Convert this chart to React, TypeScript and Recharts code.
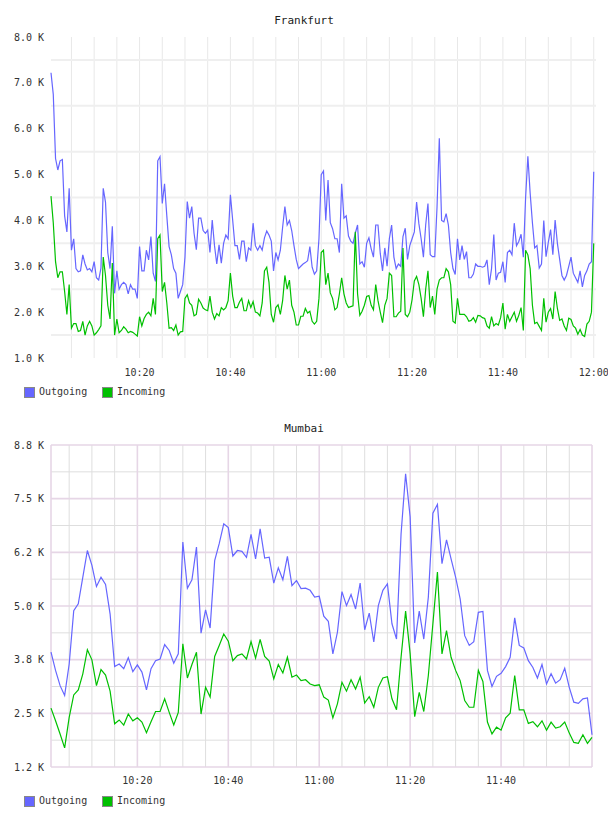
import { LineChart, Line, XAxis, YAxis, CartesianGrid } from 'recharts'

// Frankfurt: one sample every 30 s from 10:00:30 to 12:00 (values in K)
const frankfurtOutgoing = [
  7.22, 6.75, 5.35, 5.1, 5.3, 5.33, 4.1, 3.75, 4.7, 3.35,
  3.6, 2.95, 2.88, 2.9, 3.25, 3.05, 2.92, 2.95, 2.88, 3.1,
  2.75, 2.7, 2.96, 4.7, 4.4, 3.3, 2.95, 3.87, 2.41, 2.9,
  2.5, 2.6, 2.65, 2.6, 2.4, 2.6, 2.5, 2.5, 2.3, 3.43,
  2.9, 2.9, 3.35, 3.14, 3.65, 2.85, 2.67, 5.3, 5.39, 4.37,
  4.8, 4.1, 3.43, 3.25, 2.95, 2.85, 2.3, 2.45, 2.6, 3.2,
  4.41, 4.05, 4.3, 3.72, 3.36, 4.05, 4.05, 3.78, 3.72, 3.79,
  3.3, 4.01, 3.45, 3.05, 3.47, 3.07, 3.5, 3.68, 3.6, 4.56,
  4.01, 3.45, 3.45, 3.15, 3.55, 3.55, 3.1, 3.4, 3.35, 3.94,
  3.45, 3.35, 3.45, 3.35, 3.62, 3.77, 3.68, 3.55, 2.9, 3.3,
  3.14, 3.35, 3.85, 4.3, 3.9, 4.0, 3.78, 3.45, 3.15, 2.95,
  3.0, 3.05, 3.08, 3.12, 3.43, 2.98, 2.83, 2.9, 3.6, 5.0,
  5.08, 4.0, 4.88, 3.95, 3.82, 3.6, 3.6, 3.3, 4.8, 4.05,
  4.1, 3.66, 3.55, 3.5, 3.72, 3.9, 3.05, 3.1, 2.98, 3.5,
  3.62, 3.38, 3.2, 3.9, 3.9, 3.28, 2.9, 3.4, 3.0, 3.6,
  3.9, 3.2, 2.95, 3.05, 3.0, 3.65, 3.83, 3.15, 3.45, 3.6,
  3.75, 4.4, 3.93, 3.6, 3.2, 3.9, 4.37, 3.25, 3.21, 3.21,
  4.3, 5.79, 4.0, 3.97, 4.15, 3.9, 3.3, 2.95, 2.82, 3.6,
  3.14, 3.45, 3.15, 3.32, 2.75, 2.75, 2.83, 3.05, 3.0, 3.0,
  2.98, 3.0, 3.14, 2.6, 2.95, 3.69, 2.7, 2.85, 2.87, 3.1,
  2.65, 3.3, 3.35, 3.25, 3.94, 3.45, 3.54, 3.7, 3.2, 4.5,
  5.4, 4.6, 3.95, 3.4, 3.45, 2.96, 3.05, 4.0, 3.21, 3.52,
  3.8, 3.25, 4.01, 3.5, 3.15, 2.8, 2.7, 2.8, 3.0, 3.2,
  2.85, 2.75, 2.65, 2.9, 2.55, 2.8, 2.9, 3.05, 3.1, 5.06
]

const frankfurtIncoming = [
  4.53, 3.95, 3.1, 2.75, 2.88, 2.88, 2.45, 1.95, 2.6, 1.65,
  1.75, 1.75, 1.58, 1.6, 1.8, 1.5, 1.7, 1.8, 1.7, 1.5,
  1.55, 1.62, 1.7, 3.2, 2.8, 2.15, 1.85, 3.07, 1.5, 1.85,
  1.55, 1.6, 1.68, 1.63, 1.55, 1.58, 1.56, 1.52, 1.48, 1.9,
  1.7, 1.86, 1.95, 2.0, 1.92, 2.3, 1.95, 3.6, 3.68, 2.45,
  2.65, 2.2, 1.65, 1.66, 1.6, 1.72, 1.5, 1.57, 1.58, 2.3,
  2.38, 2.2, 2.15, 1.92, 1.95, 2.28, 2.2, 2.09, 2.05, 2.03,
  2.35, 2.0, 1.85, 1.97, 1.92, 2.1, 2.05, 2.1, 2.25, 2.85,
  2.35, 2.1, 2.1, 2.22, 2.3, 2.03, 2.03, 2.25, 2.1, 2.23,
  2.0, 1.98, 1.92, 2.2, 2.9, 2.98, 2.65, 1.95, 1.78, 2.1,
  2.16, 1.95, 2.25, 2.8, 2.5, 2.7, 2.15, 2.0, 1.72, 1.72,
  1.91, 1.91, 2.08, 1.98, 2.02, 1.8, 1.74, 1.8, 2.3, 3.3,
  3.35, 2.6, 2.85, 2.42, 2.3, 2.05, 2.1, 2.4, 2.75, 2.4,
  2.2, 2.1, 2.12, 2.14, 3.75, 2.4, 1.93, 2.02, 2.15, 2.34,
  2.36, 2.15, 2.05, 2.6, 2.25, 2.0, 1.77, 2.15, 2.3, 2.85,
  2.8, 1.9, 1.9, 1.98, 2.02, 3.4, 1.95, 1.9, 2.0, 2.27,
  2.68, 2.78, 2.6, 2.3, 1.9, 2.5, 2.9, 2.1, 2.35, 1.95,
  2.5, 2.7, 2.75, 2.75, 2.95, 2.88, 2.6, 1.8, 1.76, 2.3,
  1.95, 1.95, 1.95, 1.9, 1.8, 1.82, 1.88, 1.78, 1.93, 1.92,
  1.88, 1.86, 1.7, 1.65, 1.9, 1.7, 1.75, 1.72, 1.88, 2.2,
  1.63, 1.95, 1.8, 1.9, 2.0, 1.8, 1.93, 2.1, 1.6, 3.35,
  3.25, 2.95, 2.15, 1.75, 1.78, 1.69, 1.6, 2.3, 1.78, 2.0,
  2.08, 1.85, 2.45, 2.08, 1.82, 1.85, 1.7, 1.6, 1.87, 1.84,
  1.7, 1.65, 1.52, 1.62, 1.5, 1.47, 1.74, 1.8, 2.0, 3.5
]

// Mumbai: one sample a minute from 10:01 to 12:00 (values in K)
const mumbaiOutgoing = [
  3.91, 3.48, 3.12, 2.89, 3.63, 4.89, 5.05, 5.68, 6.31, 5.96,
  5.46, 5.68, 5.51, 4.81, 3.57, 3.63, 3.52, 3.78, 3.45, 3.61,
  3.44, 3.02, 3.52, 3.71, 3.75, 4.09, 3.95, 3.65, 3.87, 6.51,
  5.42, 5.62, 6.39, 4.36, 4.91, 4.48, 6.07, 6.47, 6.94, 6.85,
  6.18, 6.31, 6.29, 6.15, 6.69, 6.11, 6.82, 6.13, 6.15, 5.54,
  5.9, 5.62, 6.17, 5.48, 5.6, 5.41, 5.42, 5.37, 5.21, 5.23,
  4.76, 4.64, 3.87, 4.38, 5.34, 5.01, 5.27, 4.93, 5.54, 4.44,
  4.83, 4.15, 5.01, 5.37, 5.52, 4.58, 4.22, 6.7, 8.12, 7.1,
  4.13, 4.88, 4.22, 5.21, 7.19, 7.4, 6.0, 6.56, 6.11, 5.68,
  5.17, 4.3, 4.07, 4.16, 4.85, 4.87, 3.48, 3.1, 3.34, 3.41,
  3.57, 3.79, 4.72, 4.07, 4.01, 3.71, 3.55, 3.3, 3.62, 3.16,
  3.4, 3.18, 3.26, 3.53, 3.08, 2.73, 2.7, 2.81, 2.83, 1.96
]

const mumbaiIncoming = [
  2.59, 2.29, 1.98, 1.65, 2.37, 2.9, 3.02, 3.4, 3.97, 3.73,
  3.12, 3.5, 3.37, 2.99, 2.22, 2.31, 2.19, 2.45, 2.29, 2.36,
  2.26, 2.01, 2.27, 2.51, 2.51, 2.81, 2.49, 2.19, 2.49, 4.11,
  3.3, 3.62, 3.91, 2.45, 3.08, 2.85, 3.81, 4.07, 4.34, 4.17,
  3.71, 3.83, 3.87, 3.75, 4.16, 3.77, 4.21, 3.81, 3.7, 3.28,
  3.62, 3.42, 3.79, 3.32, 3.37, 3.24, 3.26, 3.16, 3.12, 3.14,
  2.85, 2.78, 2.36, 2.69, 3.2, 2.99, 3.26, 3.04, 3.32, 2.71,
  2.86, 2.61, 3.08, 3.3, 3.33, 2.81, 2.55, 3.79, 4.88, 3.87,
  2.39, 2.96, 2.51, 3.36, 4.58, 5.8, 3.87, 4.42, 3.79, 3.48,
  3.24, 2.77, 2.61, 2.61, 3.48, 3.22, 2.26, 1.98, 2.14, 2.07,
  2.36, 2.47, 3.36, 2.55, 2.55, 2.23, 2.27, 2.15, 2.29, 2.07,
  2.26, 2.12, 2.15, 2.26, 2.0, 1.78, 1.76, 1.96, 1.76, 1.9
]

const frankfurtYTicks = [1, 2, 3, 4, 5, 6, 7, 8]
const frankfurtXTicks = [20, 40, 60, 80, 100, 120]
const mumbaiYTicks = [1.2, 2.4667, 3.7333, 5.0, 6.2667, 7.5333, 8.8]
const mumbaiYLabels = ['1.2 K', '2.5 K', '3.8 K', '5.0 K', '6.2 K', '7.5 K', '8.8 K']
const mumbaiXTicks = [20, 40, 60, 80, 100]

const frankfurtData = frankfurtOutgoing.map((v, i) => ({
  t: (i + 1) * 0.5,
  Outgoing: v,
  Incoming: frankfurtIncoming[i]
}))

const mumbaiData = mumbaiOutgoing.map((v, i) => ({
  t: i + 1,
  Outgoing: v,
  Incoming: mumbaiIncoming[i]
}))

const BLUE = '#6666ff'
const GREEN = '#00c000'
const FONT = '"DejaVu Sans Mono", monospace'

const fiveMin = Array.from({ length: 24 }, (_, i) => (i + 1) * 5)
const fmtTime = (m: number) => `${10 + Math.floor(m / 60)}:${String(m % 60).padStart(2, '0')}`
const tickStyle = { fontSize: 10, fill: '#333', fontFamily: FONT }

const Title = ({ text, top }: { text: string; top: number }) => (
  <div style={{ position: 'absolute', left: 0, width: 608, top, textAlign: 'center', fontSize: 11, color: '#222', fontFamily: FONT }}>
    {text}
  </div>
)

const LegendRow = ({ top }: { top: number }) => (
  <div style={{ position: 'absolute', left: 0, top, fontSize: 10, fontFamily: FONT, color: '#333' }}>
    {[['Outgoing', BLUE, 24], ['Incoming', GREEN, 102]].map(([name, color, x]) => (
      <div key={name as string} style={{ position: 'absolute', left: x as number, top: 0, whiteSpace: 'nowrap', height: 10 }}>
        <span style={{ position: 'absolute', left: 0, top: 0, width: 9, height: 9, background: color as string, border: '1px solid #888' }} />
        <span style={{ position: 'absolute', left: 15, top: -1, lineHeight: '12px' }}>{name}</span>
      </div>
    ))}
  </div>
)

const App = () => {
  return (
    <div style={{ position: 'absolute', left: 0, top: 0, width: 608, height: 816, background: '#fff' }}>
      <Title text="Frankfurt" top={14} />
      <div style={{ position: 'absolute', left: 0, top: 0 }}>
        <LineChart width={608} height={410} data={frankfurtData} margin={{ top: 37, right: 12, bottom: 22, left: 6 }}>
          <CartesianGrid horizontal={false} verticalValues={fiveMin} stroke="#e8e8e8" strokeWidth={1} />
          <CartesianGrid vertical={false} horizontalValues={[1.5, 2.5, 3.5, 4.5, 5.5, 6.5, 7.5]} stroke="#efefef" strokeWidth={2} />
          <XAxis dataKey="t" type="number" domain={[0.5, 120.5]} ticks={frankfurtXTicks} interval={0}
            tickFormatter={fmtTime} axisLine={false} tickLine={false} tickMargin={5} height={30} tick={tickStyle} />
          <YAxis type="number" domain={[1, 8]} ticks={frankfurtYTicks} interval={0} width={45}
            tickFormatter={(v: number) => `${v.toFixed(1)} K`} axisLine={false} tickLine={false} tickMargin={1} tick={tickStyle} />
          <Line type="linear" dataKey="Outgoing" stroke={BLUE} strokeWidth={1.2} dot={false} isAnimationActive={false} />
          <Line type="linear" dataKey="Incoming" stroke={GREEN} strokeWidth={1.2} dot={false} isAnimationActive={false} />
        </LineChart>
      </div>
      <LegendRow top={387} />

      <Title text="Mumbai" top={422} />
      <div style={{ position: 'absolute', left: 0, top: 408 }}>
        <LineChart width={608} height={410} data={mumbaiData} margin={{ top: 37, right: 16, bottom: 21, left: 6 }}>
          <CartesianGrid
            verticalValues={fiveMin.filter((m) => m % 20 !== 0)}
            horizontalValues={[1.8333, 3.1, 4.3667, 5.6333, 6.9, 8.1667]}
            stroke="#dedede" strokeWidth={1} />
          <CartesianGrid
            verticalValues={[1, 20, 40, 60, 80, 100, 120]}
            horizontalValues={mumbaiYTicks}
            stroke="#e6d6e6" strokeWidth={1.6} />
          <XAxis dataKey="t" type="number" domain={[1, 120]} ticks={mumbaiXTicks} interval={0}
            tickFormatter={fmtTime} axisLine={false} tickLine={false} tickMargin={4} height={30} tick={tickStyle} />
          <YAxis type="number" domain={[1.2, 8.8]} ticks={mumbaiYTicks} interval={0} width={45}
            tickFormatter={(_v: number, i: number) => mumbaiYLabels[i]} axisLine={false} tickLine={false} tickMargin={1} tick={tickStyle} />
          <Line type="linear" dataKey="Outgoing" stroke={BLUE} strokeWidth={1.2} dot={false} isAnimationActive={false} />
          <Line type="linear" dataKey="Incoming" stroke={GREEN} strokeWidth={1.2} dot={false} isAnimationActive={false} />
        </LineChart>
      </div>
      <LegendRow top={796} />
    </div>
  )
}

export default App
